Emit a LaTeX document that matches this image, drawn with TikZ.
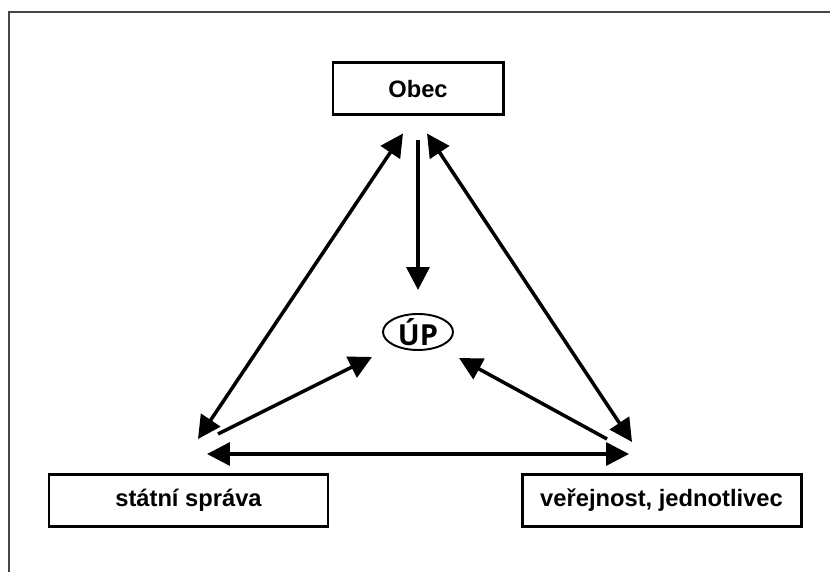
\documentclass[tikz,border=0pt]{standalone}
\usepackage{fontspec}
\setmainfont{Liberation Sans}
\newfontfamily\upfont{Open Sans}
\usetikzlibrary{arrows.meta,positioning,calc,shapes.geometric}
\definecolor{framegray}{RGB}{70,70,70}

\begin{document}
\begin{tikzpicture}[
  box/.style={draw=black,line width=1.7pt,minimum height=1.04cm,font=\fontsize{13.5}{15}\selectfont\bfseries},
  arr/.style={line width=2pt,-{Triangle[length=13pt,width=13pt]}},
  darr/.style={line width=2pt,{Triangle[length=13pt,width=13pt]}-{Triangle[length=13pt,width=13pt]}}]
\useasboundingbox (0,0) rectangle (16.6,11.44);
\draw[framegray,line width=1pt] (0.18,0) -- (0.18,11.2) -- (16.6,11.2);
\node[box,minimum width=3.4cm] (obec) at (8.36,9.66) {Obec};
\node[draw,ellipse,line width=1.1pt,minimum width=1.4cm,minimum height=0.72cm,inner xsep=0pt,inner ysep=-3pt,text height=15.5pt,text depth=0pt,font=\upfont\fontsize{16.5}{18}\selectfont\bfseries] (up) at (8.36,4.8) {ÚP};
\node[box,minimum width=5.58cm] (statni) at (3.77,1.43) {státní správa};
\node[box,minimum width=5.58cm] (verej) at (13.23,1.43) {veřejnost, jednotlivec};
% konce sipek
\coordinate (ob-l) at ($(obec.south)+(-0.3,-0.34)$);
\coordinate (ob-m) at ($(obec.south)+(0,-0.48)$);
\coordinate (ob-r) at ($(obec.south)+(0.18,-0.34)$);
\coordinate (up-t) at ($(up.center)+(0,0.84)$);
\coordinate (up-l) at ($(up.center)+(-0.92,-0.5)$);
\coordinate (up-r) at ($(up.center)+(0.82,-0.52)$);
\coordinate (st-a) at ($(statni.north)+(0.19,0.68)$);
\coordinate (st-b) at ($(statni.north)+(0.59,0.78)$);
\coordinate (st-c) at ($(statni.north)+(0.37,0.38)$);
\coordinate (ve-a) at ($(verej.north)+(-0.59,0.62)$);
\coordinate (ve-b) at ($(verej.north)+(-1.09,0.68)$);
\coordinate (ve-c) at ($(verej.north)+(-0.65,0.38)$);
\draw[arr] (ob-m) -- (up-t);
\draw[darr] (st-a) -- (ob-l);
\draw[darr] (ve-a) -- (ob-r);
\draw[arr] (st-b) -- (up-l);
\draw[arr] (ve-b) -- (up-r);
\draw[darr] (st-c) -- (ve-c);
\end{tikzpicture}
\end{document}
